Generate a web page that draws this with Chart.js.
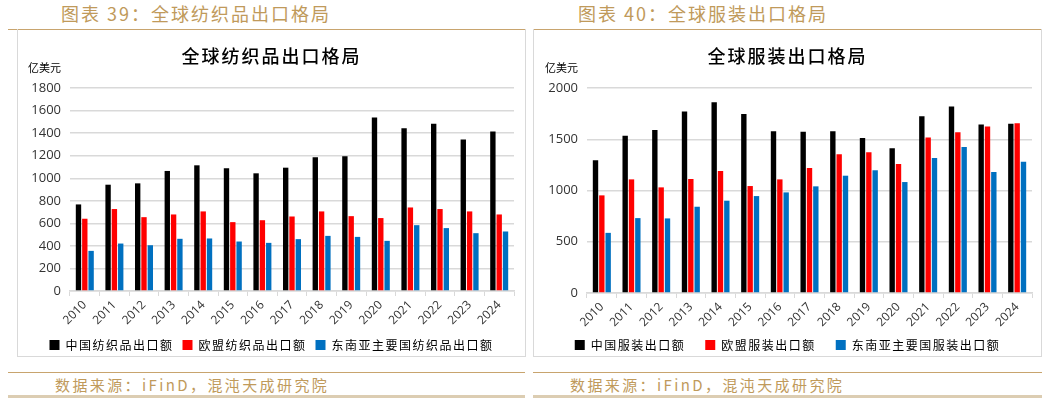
<!DOCTYPE html>
<html><head><meta charset="utf-8">
<script src="https://cdn.jsdelivr.net/npm/chart.js@4.4.1/dist/chart.umd.min.js"></script>
<style>
html,body{margin:0;padding:0;background:#fff;width:1050px;height:398px;overflow:hidden;font-family:"Noto Sans CJK SC",sans-serif;}
.hdr{position:absolute;top:0px;font-size:18px;color:#C09A5B;letter-spacing:2px;white-space:nowrap;}
.ftr{position:absolute;top:374px;font-size:15px;color:#C09A5B;letter-spacing:2.4px;white-space:nowrap;}
.line{position:absolute;height:1px;background:#C8A46E;}
.bline{position:absolute;height:3px;background:#DCCDB2;top:395px;}
.box{position:absolute;top:29px;border:1px solid #D9D9D9;border-top:none;box-sizing:border-box;}
.unit{position:absolute;font-size:11px;color:#000;}
canvas{position:absolute;left:0;top:0;}
</style></head><body>
<div class="hdr" style="left:61px">图表 39：全球纺织品出口格局</div>
<div class="hdr" style="left:578px">图表 40：全球服装出口格局</div>
<div class="line" style="left:8px;width:517px;top:29px"></div>
<div class="line" style="left:533px;width:509px;top:29px"></div>
<div class="box" style="left:17px;width:509px;height:328px"><canvas id="c1" width="507" height="327"></canvas></div>
<div class="box" style="left:533px;width:509px;height:328px"><canvas id="c2" width="507" height="327"></canvas></div>
<div class="unit" style="left:28px;top:59px">亿美元</div>
<div class="unit" style="left:545px;top:59px">亿美元</div>
<div class="line" style="left:8px;width:517px;top:372px"></div>
<div class="line" style="left:533px;width:509px;top:372px"></div>
<div class="ftr" style="left:55px">数据来源：iFinD，混沌天成研究院</div>
<div class="ftr" style="left:570px">数据来源：iFinD，混沌天成研究院</div>
<div class="bline" style="left:8px;width:517px"></div>
<div class="bline" style="left:533px;width:509px"></div>
<script>
const years = ["2010","2011","2012","2013","2014","2015","2016","2017","2018","2019","2020","2021","2022","2023","2024"];

const textileTitle = "全球纺织品出口格局";
const textileNames = ["中国纺织品出口额","欧盟纺织品出口额","东南亚主要国纺织品出口额"];
const textileChina = [768,943,955,1065,1115,1089,1044,1094,1186,1195,1539,1444,1483,1344,1415];
const textileEU    = [641,727,655,679,706,611,628,661,706,664,647,741,727,706,679];
const textileSEA   = [356,421,406,463,466,439,427,460,489,480,445,584,558,513,528];

const apparelTitle = "全球服装出口格局";
const apparelNames = ["中国服装出口额","欧盟服装出口额","东南亚主要国服装出口额"];
const apparelChina = [1295,1534,1592,1772,1863,1746,1579,1573,1579,1514,1413,1726,1821,1645,1651];
const apparelEU    = [953,1109,1031,1113,1191,1044,1109,1220,1354,1374,1260,1517,1570,1625,1658];
const apparelSEA   = [587,731,728,842,901,946,982,1041,1145,1198,1083,1318,1426,1181,1282];

const colors = ["#000000","#FF0000","#0070C0"];
const numFont = "'Open Sans', sans-serif";
const cjkFont = "'Noto Sans CJK SC', sans-serif";

// fixes legend height, applies letter spacing and small offsets to legend/title drawing
const spacingPlugin = {
  id: "spacingFix",
  beforeLayout(chart, args, opts){
    const lg = chart.legend, tb = chart.titleBlock;
    if (lg && !lg._fixed){
      lg._fixed = true;
      const f = lg.fit.bind(lg), d = lg.draw.bind(lg);
      lg.fit = function(){ const c=this.ctx; c.save(); c.letterSpacing = opts.legendSpacing; f(); c.restore(); this.height = opts.legendHeight; };
      lg.draw = function(a){
        const c=this.ctx; c.save(); c.letterSpacing = opts.legendSpacing;
        const t=this.top, l=this.left, r=this.right;
        this.top = t - opts.legendShiftY; this.left = l + opts.shiftX; this.right = r + opts.shiftX;
        d(a);
        this.top = t; this.left = l; this.right = r;
        c.restore();
      };
    }
    if (tb && !tb._fixed){
      tb._fixed = true;
      const d2 = tb.draw.bind(tb);
      tb.draw = function(a){
        const c=this.ctx; c.save(); c.letterSpacing = opts.titleSpacing;
        const l=this.left, r=this.right;
        this.left = l + opts.shiftX; this.right = r + opts.shiftX;
        d2(a);
        this.left = l; this.right = r;
        c.restore();
      };
    }
  }
};

function build(id, title, names, series, yMax, yStep, legendGap, legendHeight, legendShiftY, yWidth, rightPad){
  new Chart(document.getElementById(id), {
    type: "bar",
    data: {
      labels: years,
      datasets: series.map((s,i)=>({label:names[i], data:s, backgroundColor:colors[i], borderWidth:0,
        categoryPercentage:0.64, barPercentage:0.85}))
    },
    plugins: [spacingPlugin],
    options: {
      responsive:false, animation:false, devicePixelRatio:1,
      layout:{padding:{left:0,right:rightPad,top:0,bottom:0}},
      plugins:{
        spacingFix:{legendSpacing:"1.5px", titleSpacing:"2px", legendHeight:legendHeight, legendShiftY:legendShiftY, shiftX:rightPad/2},
        title:{display:true, text:title, color:"#000", font:{family:cjkFont, size:18, weight:"500"}, padding:{top:16,bottom:21.5}},
        legend:{position:"bottom", labels:{boxWidth:10, boxHeight:10, padding:legendGap, color:"#000", font:{family:cjkFont, size:12}}},
        tooltip:{enabled:false}
      },
      scales:{
        x:{
          grid:{drawOnChartArea:false, drawTicks:true, tickLength:5, offset:true, color:"#D9D9D9", lineWidth:1},
          border:{display:true, color:"#D9D9D9", width:1.5},
          ticks:{minRotation:45, maxRotation:45, color:"#333", padding:2, font:{family:numFont, size:12}},
          afterFit:(s)=>{ s.height = 39; }
        },
        y:{
          min:0, max:yMax,
          grid:{color:"#D9D9D9", lineWidth:1.5, drawTicks:false},
          border:{display:false},
          ticks:{stepSize:yStep, color:"#333", padding:9, font:{family:numFont, size:13}, callback:(v)=>String(v)},
          afterFit:(s)=>{ s.width = yWidth; }
        }
      }
    }
  });
}
build("c1", textileTitle, textileNames, [textileChina, textileEU, textileSEA], 1800, 200, 9, 26, 0, 52, 11);
build("c2", apparelTitle, apparelNames, [apparelChina, apparelEU, apparelSEA], 2000, 500, 20, 24, 13, 53, 9);
</script>
</body></html>
